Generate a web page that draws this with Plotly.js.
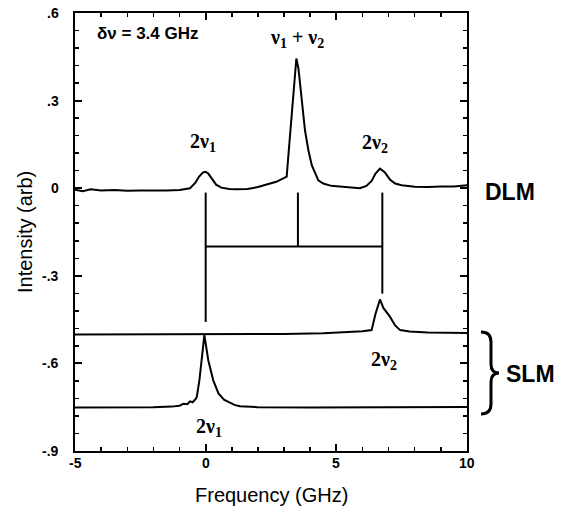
<!DOCTYPE html>
<html>
<head>
<meta charset="utf-8">
<script src="https://cdn.plot.ly/plotly-3.0.1.min.js"></script>
<style>html,body{margin:0;padding:0;background:#fff;}#chart{width:564px;height:506px;}</style>
</head>
<body>
<div id="chart"></div>
<script>
// ---- Data ----
// DLM (dual longitudinal mode) spectrum
var dlmX = [-5.0,-4.7,-4.4,-4.0,-3.5,-3.0,-2.5,-2.0,-1.5,-1.0,-0.6,-0.4,-0.25,-0.1,0.0,0.1,0.25,0.4,0.6,0.9,1.2,1.6,2.0,2.4,2.7,2.95,3.1,3.2,3.3,3.4,3.47,3.55,3.67,3.8,3.93,4.06,4.31,4.5,4.8,5.14,5.5,5.9,6.15,6.35,6.5,6.67,6.85,7.05,7.25,7.5,8.0,8.5,9.0,9.5,10.0];
var dlmY = [-0.005,-0.01,-0.004,-0.008,-0.006,-0.009,-0.008,-0.009,-0.008,-0.006,0.0,0.018,0.04,0.054,0.056,0.05,0.03,0.012,0.002,-0.003,-0.004,-0.003,0.004,0.014,0.022,0.033,0.04,0.15,0.26,0.37,0.444,0.41,0.30,0.199,0.13,0.079,0.027,0.016,0.008,0.005,0.002,0.0,0.008,0.025,0.05,0.067,0.055,0.03,0.016,0.01,0.005,0.004,0.006,0.006,0.01];
// SLM trace with the 2v2 line (offset to -0.5)
var slm2X = [-5.0,-3.0,-1.0,1.0,3.0,4.5,5.5,6.0,6.35,6.5,6.67,6.8,7.05,7.25,7.44,7.8,8.5,9.2,10.0];
var slm2Y = [-0.501,-0.501,-0.5,-0.5,-0.499,-0.497,-0.493,-0.49,-0.486,-0.43,-0.381,-0.41,-0.44,-0.47,-0.486,-0.491,-0.494,-0.495,-0.496];
// SLM trace with the 2v1 line (offset to -0.75)
var slm1X = [-5.0,-3.0,-2.0,-1.3,-1.0,-0.85,-0.7,-0.6,-0.5,-0.38,-0.34,-0.24,-0.15,-0.05,0.1,0.29,0.49,0.7,0.87,1.1,1.31,2.0,4.0,6.0,8.0,10.0];
var slm1Y = [-0.751,-0.751,-0.75,-0.748,-0.745,-0.738,-0.740,-0.730,-0.733,-0.722,-0.715,-0.658,-0.58,-0.503,-0.589,-0.658,-0.703,-0.724,-0.732,-0.742,-0.747,-0.75,-0.751,-0.751,-0.75,-0.749];
// Marker lines linking the peaks
var markX = [0.0, 3.53, 6.76];
var markTop = -0.015;
var markBottom = [-0.458, -0.2, -0.361];
var barY = -0.2;
// Axis ticks
var xTickVals = [-5, 0, 5, 10];
var xTickText = ['-5', '0', '5', '10'];
var yTickVals = [0.6, 0.3, 0, -0.3, -0.6, -0.9];
var yTickText = ['.6', '.3', '0', '-.3', '-.6', '-.9'];
var xRange = [-5, 10];
var yRange = [-0.9, 0.6];

var INK = '#000';
var lineStyle = {color: INK, width: 2};
var traces = [
  {x: dlmX, y: dlmY, mode: 'lines', line: lineStyle},
  {x: slm2X, y: slm2Y, mode: 'lines', line: lineStyle},
  {x: slm1X, y: slm1Y, mode: 'lines', line: lineStyle}
];
markX.forEach(function (mx, i) {
  traces.push({x: [mx, mx], y: [markTop, markBottom[i]], mode: 'lines', line: lineStyle});
});
traces.push({x: [markX[0], markX[2]], y: [barY, barY], mode: 'lines', line: lineStyle});

var M = {l: 75, r: 97, t: 13, b: 55};
var W = 564, H = 506;
var pw = W - M.l - M.r, ph = H - M.t - M.b;
function px(x) { return ((x - M.l) / pw).toFixed(4); }
function py(y) { return ((H - M.b - y) / ph).toFixed(4); }
var brace = 'M ' + px(481) + ',' + py(332) +
  ' Q ' + px(491) + ',' + py(332) + ' ' + px(491) + ',' + py(342) +
  ' L ' + px(491) + ',' + py(364) +
  ' Q ' + px(491) + ',' + py(373) + ' ' + px(499) + ',' + py(373) +
  ' Q ' + px(491) + ',' + py(373) + ' ' + px(491) + ',' + py(382) +
  ' L ' + px(491) + ',' + py(404) +
  ' Q ' + px(491) + ',' + py(414) + ' ' + px(481) + ',' + py(414);

var FAM = 'Liberation Sans, Arial, sans-serif';
var sansBold = {family: FAM, size: 17, color: INK, weight: 'bold'};
var serifBold = {family: 'Liberation Serif, Times New Roman, serif', size: 20, color: INK, weight: 'bold'};
var labelFont = {family: FAM, size: 23, color: INK, weight: 'bold'};
var tickFont = {family: FAM, size: 14, color: INK, weight: 'bold'};
var titleFont = {family: FAM, size: 20, color: INK};

var annotations = [
  {x: -2.19, y: 0.531, xref: 'x', yref: 'y', text: 'δν = 3.4 GHz', showarrow: false, font: sansBold},
  {x: 3.48, y: 0.512, xref: 'x', yref: 'y', text: 'ν<sub>1</sub> + ν<sub>2</sub>', showarrow: false, font: serifBold},
  {x: -0.1, y: 0.155, xref: 'x', yref: 'y', text: '2ν<sub>1</sub>', showarrow: false, font: serifBold},
  {x: 6.48, y: 0.152, xref: 'x', yref: 'y', text: '2ν<sub>2</sub>', showarrow: false, font: serifBold},
  {x: 6.83, y: -0.59, xref: 'x', yref: 'y', text: '2ν<sub>2</sub>', showarrow: false, font: serifBold},
  {x: 0.13, y: -0.82, xref: 'x', yref: 'y', text: '2ν<sub>1</sub>', showarrow: false, font: serifBold},
  {x: 1.11, y: -0.014, xref: 'paper', yref: 'y', xanchor: 'center', text: 'DLM', showarrow: false, font: labelFont},
  {x: 1.163, y: -0.637, xref: 'paper', yref: 'y', xanchor: 'center', text: 'SLM', showarrow: false, font: labelFont},
  {x: 0.5, y: 0, xref: 'paper', yref: 'paper', yanchor: 'middle', yshift: -44, text: 'Frequency (GHz)', showarrow: false, font: titleFont},
  {x: 0, y: 0.5, xref: 'paper', yref: 'paper', xanchor: 'center', xshift: -50, textangle: -90, text: 'Intensity (arb)', showarrow: false, font: titleFont}
];
xTickVals.forEach(function (v, i) {
  annotations.push({x: v, y: 0, xref: 'x', yref: 'paper', yanchor: 'middle', yshift: -12, text: xTickText[i], showarrow: false, font: tickFont});
});
yTickVals.forEach(function (v, i) {
  annotations.push({x: 0, y: v, xref: 'paper', yref: 'y', xanchor: 'right', xshift: -14, yanchor: 'middle', text: yTickText[i], showarrow: false, font: tickFont});
});

var layout = {
  width: W, height: H,
  margin: M,
  showlegend: false,
  xaxis: {
    range: xRange, tickmode: 'linear', tick0: 0, dtick: 5,
    showticklabels: false,
    ticks: 'inside', ticklen: 7, tickwidth: 2, tickcolor: INK,
    minor: {ticks: 'inside', ticklen: 4, tickwidth: 1.5, tickcolor: INK, dtick: 1},
    showline: true, linecolor: INK, linewidth: 2, mirror: 'ticks',
    showgrid: false, zeroline: false
  },
  yaxis: {
    range: yRange, tickmode: 'linear', tick0: 0, dtick: 0.3,
    showticklabels: false,
    ticks: 'inside', ticklen: 7, tickwidth: 2, tickcolor: INK,
    minor: {ticks: 'inside', ticklen: 4, tickwidth: 1.5, tickcolor: INK, dtick: 0.06},
    showline: true, linecolor: INK, linewidth: 2, mirror: 'ticks',
    showgrid: false, zeroline: false
  },
  shapes: [
    {type: 'path', xref: 'paper', yref: 'paper', path: brace, line: {color: INK, width: 3}}
  ],
  annotations: annotations
};

Plotly.newPlot('chart', traces, layout, {staticPlot: true});
</script>
</body>
</html>
